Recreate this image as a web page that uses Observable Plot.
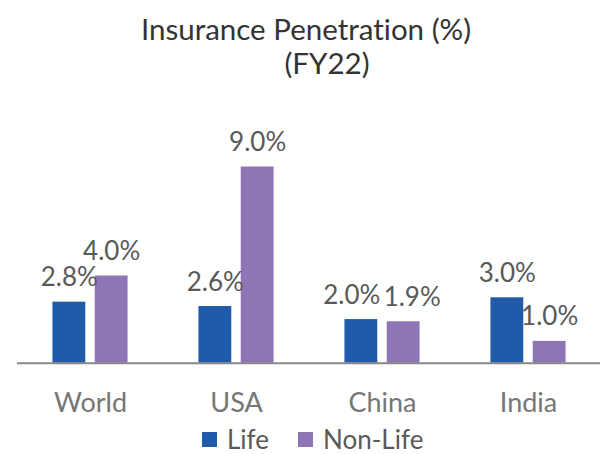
<!DOCTYPE html>
<html><head><meta charset="utf-8">
<script src="https://cdn.jsdelivr.net/npm/d3@7"></script>
<script src="https://cdn.jsdelivr.net/npm/@observablehq/plot@0.6"></script>
<style>
body{margin:0;background:#fff;font-family:Lato,sans-serif;font-variant-ligatures:none;}
#wrap{position:relative;width:600px;height:454px;overflow:hidden;background:#fff;}
.t{position:absolute;left:0;width:600px;text-align:center;color:#333;font-size:29.5px;line-height:34px;white-space:nowrap;box-sizing:border-box;}
#chart{position:absolute;left:0;top:100px;}
#legend{position:absolute;left:202px;top:424px;height:30px;display:flex;align-items:center;font-size:26px;line-height:30px;color:#595959;white-space:nowrap;}
#legend .item{display:flex;align-items:center;margin-right:29px;}
#legend .sw{width:15px;height:15px;margin-right:10px;display:inline-block;}
svg text{font-variant-ligatures:none;}
</style></head>
<body><div id="wrap">
<div class="t" style="top:12px;padding-left:12px;">Insurance Penetration (%)</div>
<div class="t" style="top:46px;padding-left:54px;">(FY22)</div>
<div id="chart"></div>
<div id="legend"></div>
</div>
<script>
const countries = ["World", "USA", "China", "India"];
const series = ["Life", "Non-Life"];
const lifeValues = [2.8, 2.6, 2.0, 3.0];
const nonLifeValues = [4.0, 9.0, 1.9, 1.0];
const colors = ["#1f5ba8", "#8e75b5"];

const rows = [];
countries.forEach((c, i) => {
  // labels of a pair collide when the two values are close: push them apart
  const close = Math.abs(lifeValues[i] - nonLifeValues[i]) < 0.8;
  rows.push({country: c, series: series[0], value: lifeValues[i], pushed: close});
  rows.push({country: c, series: series[1], value: nonLifeValues[i], pushed: close});
});
const fmt = d => d.value.toFixed(1) + "%";
const labelStyle = {fx: "country", x: "series", y: "value", text: fmt, dy: -16, lineAnchor: "bottom", fontSize: 26, fill: "#595959"};

const chart = Plot.plot({
  width: 600,
  height: 330,
  marginTop: 44.7,
  marginBottom: 67.3,
  marginLeft: 15,
  marginRight: 0,
  style: {fontFamily: "Lato, sans-serif", background: "transparent", overflow: "visible"},
  fx: {domain: countries, range: [15, 602], paddingInner: 0, paddingOuter: 0, label: null, axis: null},
  x: {domain: series, paddingInner: 0.2235, paddingOuter: 0.838, axis: null, round: false},
  y: {domain: [0, 10], range: [262.7, 44.7], axis: null},
  color: {domain: series, range: colors},
  marks: [
    Plot.barY(rows, {fx: "country", x: "series", y: "value", fill: "series"}),
    Plot.text(rows, {...labelStyle, filter: d => !d.pushed}),
    Plot.text(rows, {...labelStyle, filter: d => d.pushed && d.series === series[0], textAnchor: "end", dx: 19}),
    Plot.text(rows, {...labelStyle, filter: d => d.pushed && d.series === series[1], textAnchor: "start", dx: -20}),
    Plot.ruleY([0], {stroke: "#878787", strokeWidth: 2}),
    Plot.axisFx({anchor: "bottom", tickSize: 0, tickPadding: 30, fontSize: 27, fill: "#767676", label: null})
  ]
});
document.getElementById("chart").appendChild(chart);

const legend = document.getElementById("legend");
series.forEach((s, i) => {
  const item = document.createElement("span");
  item.className = "item";
  const sw = document.createElement("span");
  sw.className = "sw";
  sw.style.background = colors[i];
  item.appendChild(sw);
  item.appendChild(document.createTextNode(s));
  legend.appendChild(item);
});
</script>
</body></html>
